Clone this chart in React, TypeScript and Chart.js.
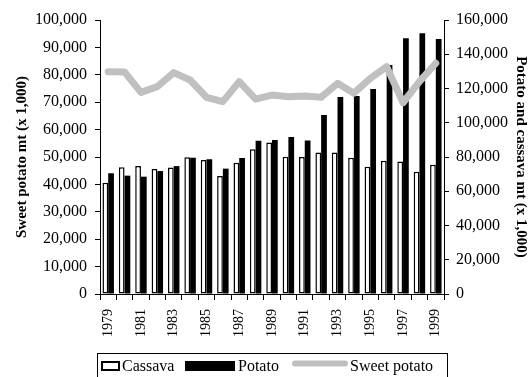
import React, { useEffect, useRef } from "react";
import { Chart, registerables } from "chart.js";

Chart.register(...registerables);

const years = [
  "1979", "1980", "1981", "1982", "1983", "1984", "1985", "1986", "1987", "1988",
  "1989", "1990", "1991", "1992", "1993", "1994", "1995", "1996", "1997", "1998", "1999",
];

// Potato and cassava, right axis (mt x 1,000)
const cassava = [
  65000, 74000, 74700, 73000, 73800, 79800, 78200, 68900, 76700, 84500,
  88400, 80200, 80000, 82700, 82700, 79600, 74300, 77800, 77300, 71400, 75500,
];
const potato = [
  70500, 69100, 68500, 71800, 74700, 79500, 78700, 73200, 79400, 89500,
  89900, 91700, 89700, 104500, 115000, 115600, 119700, 133700, 149300, 152200, 148900,
];
// Sweet potato, left axis (mt x 1,000)
const sweetPotato = [
  81100, 81000, 73600, 75700, 80800, 78100, 71800, 70200, 77500, 71100,
  72600, 72000, 72300, 71800, 76900, 73300, 78700, 83000, 69800, 77500, 84200,
];

const leftAxisTitle = "Sweet potato mt (x 1,000)";
const rightAxisTitle = "Potato and cassava mt (x 1,000)";
const legendLabels = ["Cassava", "Potato", "Sweet potato"];

const SERIF = '"Liberation Serif", "Times New Roman", serif';

const fmt = (v: number) => Number(v).toLocaleString("en-US");

const legendPlugin = {
  id: "boxLegend",
  afterDraw(chart: any) {
    const ctx = chart.ctx as CanvasRenderingContext2D;
    ctx.save();
    // frame
    ctx.strokeStyle = "#000";
    ctx.lineWidth = 1;
    ctx.strokeRect(97.5, 353.5, 350, 40);
    ctx.font = `16px ${SERIF}`;
    ctx.fillStyle = "#000";
    ctx.textBaseline = "middle";
    ctx.textAlign = "left";
    // Cassava swatch
    ctx.fillStyle = "#fff";
    ctx.fillRect(101, 361, 19, 10);
    ctx.lineWidth = 2;
    ctx.strokeStyle = "#000";
    ctx.strokeRect(102, 362, 17, 8);
    ctx.fillStyle = "#000";
    ctx.fillText(legendLabels[0], 122, 367);
    // Potato swatch
    ctx.fillRect(185, 361, 50, 10);
    ctx.fillText(legendLabels[1], 238, 367);
    // Sweet potato swatch
    ctx.strokeStyle = "#c0c0c0";
    ctx.lineWidth = 6;
    ctx.lineCap = "round";
    ctx.beginPath();
    ctx.moveTo(295, 363.5);
    ctx.lineTo(345, 363.5);
    ctx.stroke();
    ctx.fillText(legendLabels[2], 350, 367);
    ctx.restore();
  },
};

export default function App() {
  const ref = useRef<HTMLCanvasElement | null>(null);

  useEffect(() => {
    if (!ref.current) return;
    Chart.defaults.font.family = SERIF;
    Chart.defaults.color = "#000";
    const chart = new Chart(ref.current, {
      data: {
        labels: years,
        datasets: [
          {
            type: "line",
            label: legendLabels[2],
            data: sweetPotato,
            yAxisID: "y",
            borderColor: "#c0c0c0",
            backgroundColor: "#c0c0c0",
            borderWidth: 7,
            pointRadius: 0,
            tension: 0,
            borderCapStyle: "round",
            borderJoinStyle: "round",
            order: 0,
          },
          {
            type: "bar",
            label: legendLabels[0],
            data: cassava,
            yAxisID: "y1",
            backgroundColor: "#fff",
            borderColor: "#000",
            borderWidth: 1.5,
            borderSkipped: false,
            categoryPercentage: 0.7,
            barPercentage: 1.0,
            order: 1,
          },
          {
            type: "bar",
            label: legendLabels[1],
            data: potato,
            yAxisID: "y1",
            backgroundColor: "#000",
            borderWidth: 0,
            categoryPercentage: 0.7,
            barPercentage: 1.0,
            order: 1,
          },
        ],
      } as any,
      options: {
        responsive: false,
        animation: false,
        layout: { padding: { top: 20, bottom: 0, left: 0, right: 0 } },
        plugins: {
          legend: { display: false },
          tooltip: { enabled: false },
        },
        scales: {
          x: {
            type: "category",
            offset: true,
            grid: {
              offset: true,
              drawOnChartArea: false,
              drawTicks: true,
              tickLength: 6,
              color: "#000",
            },
            border: { display: true, color: "#000" },
            ticks: {
              autoSkip: false,
              maxRotation: 90,
              minRotation: 90,
              padding: 9,
              color: "#000",
              font: { size: 14, family: SERIF },
              callback: (_v: any, i: number) => (i % 2 === 0 ? years[i] : ""),
            },
            afterFit: (s: any) => {
              s.height = 83;
            },
          },
          y: {
            type: "linear",
            position: "left",
            min: 0,
            max: 100000,
            grid: { drawOnChartArea: false, tickLength: 5, color: "#000" },
            border: { display: true, color: "#000" },
            ticks: {
              stepSize: 10000,
              padding: 8,
              color: "#000",
              font: { size: 16, family: SERIF },
              callback: (v: any) => fmt(v),
            },
            title: {
              display: true,
              text: leftAxisTitle,
              color: "#000",
              font: { size: 15, weight: "bold", family: SERIF },
              padding: { top: 13, bottom: 0 },
            },
            afterFit: (s: any) => {
              s.width = 100;
            },
          },
          y1: {
            type: "linear",
            position: "right",
            min: 0,
            max: 160000,
            grid: { drawOnChartArea: false, tickLength: 5, color: "#000" },
            border: { display: true, color: "#000" },
            ticks: {
              stepSize: 20000,
              padding: 7,
              color: "#000",
              font: { size: 16, family: SERIF },
              callback: (v: any) => fmt(v),
            },
            title: {
              display: true,
              text: rightAxisTitle,
              color: "#000",
              font: { size: 15, weight: "bold", family: SERIF },
              padding: { top: 0, bottom: 0 },
            },
            afterFit: (s: any) => {
              s.width = 86;
            },
          },
        },
      } as any,
      plugins: [legendPlugin],
    });
    return () => chart.destroy();
  }, []);

  return (
    <div
      style={{
        position: "fixed",
        left: 0,
        top: 0,
        width: 530,
        height: 377,
        background: "#fff",
      }}
    >
      <canvas ref={ref} width={530} height={377} style={{ display: "block" }} />
    </div>
  );
}
